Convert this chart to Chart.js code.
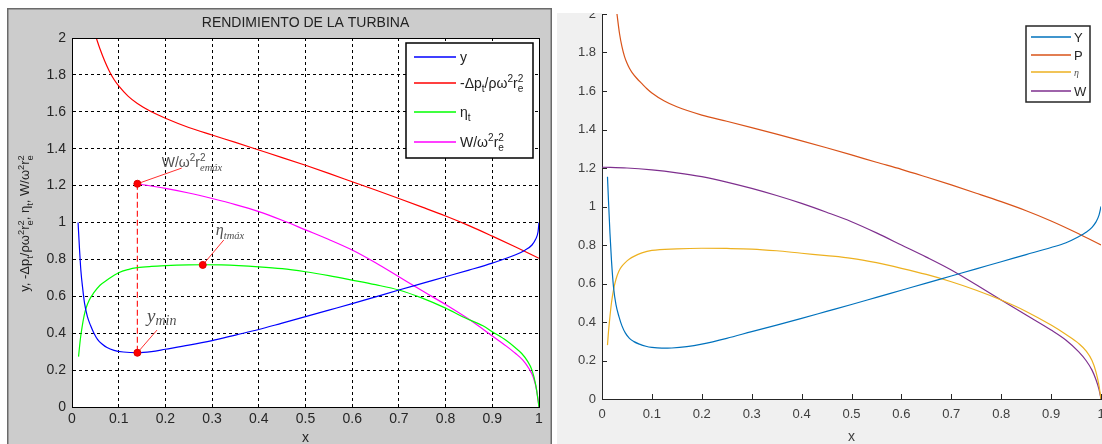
<!DOCTYPE html>
<html><head><meta charset="utf-8">
<script src="https://cdn.jsdelivr.net/npm/chart.js@4/dist/chart.umd.min.js"></script>
<style>
html,body{margin:0;padding:0;background:#fff;overflow:hidden;width:1102px;height:444px;}
#c1{position:absolute;left:7px;top:8px;}
#c2{position:absolute;left:557px;top:13px;}
</style></head><body>
<canvas id="c1" width="545" height="446"></canvas>
<canvas id="c2" width="545" height="441"></canvas>
<script>
// ---------- tick labels ----------
const xTickLabels = ['0','0.1','0.2','0.3','0.4','0.5','0.6','0.7','0.8','0.9','1'];
const yTickLabels = ['0','0.2','0.4','0.6','0.8','1','1.2','1.4','1.6','1.8','2'];

// ---------- left chart data ----------
const leftTitle = 'RENDIMIENTO DE LA TURBINA';
const yCurveX = [0.013,0.016,0.019,0.023,0.027,0.033,0.04,0.047,0.055,0.065,0.075,0.09,0.11,0.14,0.17,0.2,0.25,0.3,0.35,0.4,0.45,0.5,0.55,0.6,0.65,0.7,0.75,0.8,0.85,0.9,0.95,0.97,0.985,0.993,0.998,1.0];
const yCurveV = [1.0,0.86,0.74,0.64,0.56,0.49,0.44,0.40,0.365,0.34,0.322,0.307,0.298,0.294,0.3,0.313,0.335,0.36,0.39,0.42,0.455,0.49,0.525,0.56,0.597,0.634,0.67,0.706,0.742,0.78,0.825,0.85,0.878,0.91,0.95,1.0];
const pCurveX = [0.052,0.06,0.07,0.08,0.09,0.1,0.12,0.14,0.17,0.2,0.25,0.3,0.35,0.4,0.45,0.5,0.55,0.6,0.65,0.7,0.75,0.8,0.85,0.9,0.95,1.0];
const pCurveV = [2.0,1.94,1.875,1.82,1.775,1.74,1.685,1.645,1.60,1.565,1.515,1.474,1.434,1.393,1.352,1.31,1.266,1.221,1.176,1.13,1.083,1.035,0.983,0.926,0.867,0.806];
const etaCurveX = [0.014,0.018,0.022,0.026,0.03,0.037,0.046,0.06,0.075,0.1,0.12,0.14,0.17,0.2,0.25,0.28,0.32,0.4,0.45,0.5,0.55,0.6,0.65,0.7,0.75,0.8,0.84,0.88,0.9,0.93,0.95,0.963,0.975,0.985,0.993,1.0];
const etaCurveV = [0.273,0.37,0.44,0.495,0.535,0.58,0.617,0.66,0.688,0.728,0.745,0.755,0.762,0.766,0.77,0.771,0.77,0.76,0.75,0.733,0.712,0.688,0.663,0.634,0.59,0.536,0.485,0.44,0.408,0.36,0.32,0.29,0.25,0.2,0.12,0.0];
const wCurveX = [0.14,0.2,0.25,0.3,0.35,0.4,0.45,0.5,0.55,0.6,0.65,0.7,0.75,0.8,0.85,0.9,0.93,0.95,0.965,0.978,0.988,0.995,1.0];
const wCurveV = [1.21,1.185,1.16,1.13,1.097,1.059,1.012,0.96,0.908,0.851,0.782,0.706,0.63,0.555,0.475,0.385,0.33,0.29,0.255,0.21,0.16,0.09,0.0];
// annotation points (W max, eta max, y min) and their label anchors
const annX = [0.14, 0.28, 0.14];
const annY = [1.21, 0.77, 0.294];
const annLX = [0.235, 0.325, 0.182];
const annLY = [1.295, 0.905, 0.417];

// ---------- right chart data ----------
const rightNames = ['Y','P','η','W'];
const rYX = [0.011,0.013,0.016,0.019,0.023,0.028,0.034,0.04,0.047,0.055,0.064,0.075,0.088,0.1,0.12,0.14,0.17,0.2,0.25,0.3,0.35,0.4,0.45,0.5,0.55,0.6,0.65,0.7,0.75,0.8,0.85,0.9,0.93,0.955,0.97,0.982,0.99,0.996,1.0];
const rYV = [1.155,1.03,0.86,0.72,0.583,0.49,0.428,0.38,0.342,0.315,0.298,0.285,0.274,0.268,0.264,0.265,0.272,0.285,0.315,0.35,0.384,0.419,0.455,0.491,0.528,0.565,0.602,0.639,0.676,0.713,0.75,0.787,0.812,0.843,0.866,0.892,0.92,0.955,1.0];
const rPX = [0.03,0.035,0.04,0.045,0.05,0.055,0.06,0.07,0.08,0.09,0.1,0.125,0.15,0.2,0.25,0.3,0.35,0.4,0.45,0.5,0.55,0.6,0.65,0.7,0.75,0.8,0.85,0.9,0.95,1.0];
const rPV = [2.0,1.9,1.83,1.78,1.745,1.718,1.697,1.665,1.638,1.612,1.59,1.548,1.518,1.475,1.443,1.41,1.376,1.341,1.305,1.268,1.23,1.193,1.153,1.112,1.069,1.025,0.978,0.925,0.865,0.8];
const rEX = [0.011,0.013,0.016,0.019,0.023,0.028,0.034,0.04,0.047,0.055,0.064,0.08,0.1,0.15,0.2,0.25,0.3,0.35,0.4,0.45,0.5,0.55,0.6,0.65,0.7,0.75,0.8,0.85,0.9,0.93,0.955,0.97,0.982,0.99,0.996,1.0];
const rEV = [0.28,0.35,0.43,0.5,0.566,0.622,0.665,0.69,0.71,0.727,0.741,0.759,0.772,0.78,0.783,0.782,0.779,0.77,0.757,0.745,0.731,0.708,0.679,0.647,0.609,0.565,0.514,0.455,0.384,0.335,0.289,0.25,0.2,0.14,0.07,0.0];
const rWX = [0,0.05,0.1,0.15,0.2,0.25,0.3,0.35,0.4,0.45,0.5,0.55,0.6,0.65,0.7,0.75,0.8,0.85,0.9,0.93,0.955,0.97,0.982,0.99,0.996,1.0];
const rWV = [1.204,1.2,1.19,1.175,1.155,1.127,1.094,1.057,1.016,0.97,0.921,0.863,0.8,0.737,0.67,0.593,0.514,0.436,0.358,0.305,0.246,0.2,0.15,0.1,0.05,0.0];

// ---------- helpers ----------
const SANS = 'Liberation Sans, Arial, sans-serif';
const SERIF = 'Liberation Serif, Times New Roman, serif';
function pts(xs, ys){ return xs.map((x,i)=>({x:x, y:ys[i]})); }
function rt(fs, fam, list){
  const out=[];
  for(const p of list){
    if(typeof p==='string') out.push({t:p,size:fs,family:fam});
    else if(p[0]==='^') out.push({t:p[1],size:fs*0.72,family:fam,dy:-fs*0.4});
    else if(p[0]==='_') out.push({t:p[1],size:fs*0.72,family:fam,dy:fs*0.3});
    else if(p[0]==='^_'){ out.push({t:p[1],size:fs*0.72,family:fam,dy:-fs*0.4,stack:true}); out.push({t:p[2],size:fs*0.72,family:fam,dy:fs*0.3}); }
  }
  return out;
}
function layoutRich(ctx, segs){
  let x=0, pend=0; const items=[];
  for(const s of segs){
    const font = ((s.style||'')+' '+s.size+'px '+s.family).trim();
    ctx.font = font;
    const w = ctx.measureText(s.t).width;
    items.push({t:s.t, x:x, dy:s.dy||0, font:font});
    if(s.stack){ pend=Math.max(pend,w); } else { x += Math.max(pend,w); pend=0; }
  }
  return {items:items, width:x};
}
function drawRich(ctx, segs, x0, y0, align, color){
  const L = layoutRich(ctx, segs);
  const sx = align==='center' ? x0-L.width/2 : (align==='right' ? x0-L.width : x0);
  ctx.fillStyle=color; ctx.textBaseline='alphabetic'; ctx.textAlign='left';
  for(const it of L.items){ ctx.font=it.font; ctx.fillText(it.t, sx+it.x, y0+it.dy); }
}

Chart.defaults.animation = false;

// ---------- LEFT CHART ----------
const leftLegend = [
  {color:'#0000ff', segs: rt(14, SANS, ['y'])},
  {color:'#ff0000', segs: rt(14, SANS, ['-Δp',['_','t'],'/ρω',['^','2'],'r',['^_','2','e']])},
  {color:'#00ff00', segs: rt(14, SANS, ['η',['_','t']])},
  {color:'#ff00ff', segs: rt(14, SANS, ['W/ω',['^','2'],'r',['^_','2','e']])}
];
const yTitleSegs = rt(13, SANS, ['y, -Δp',['_','t'],'/ρω',['^','2'],'r',['^_','2','e'],', η',['_','t'],', W/ω',['^','2'],'r',['^_','2','e']]);
const annLabels = [
  {dx:-20, dy:-1, segs:[{t:'W/ω',size:14,family:SANS},{t:'2',size:10,family:SANS,dy:-6},{t:'r',size:14,family:SANS},{t:'2',size:10,family:SANS,dy:-6,stack:true},{t:'emáx',size:10.5,family:SERIF,style:'italic',dy:4}]},
  {dx:-8, dy:-5, segs:[{t:'η',size:16,family:SERIF,style:'italic'},{t:'tmáx',size:10.5,family:SERIF,style:'italic',dy:4}]},
  {dx:-10, dy:-8, segs:[{t:'y',size:19,family:SERIF,style:'italic'},{t:'min',size:14,family:SERIF,style:'italic',dy:3}]}
];

const leftPlugin = {
  id:'leftDeco',
  beforeDraw(chart){
    const {ctx, chartArea:a, width, height} = chart;
    ctx.save();
    ctx.fillStyle='#cccccc'; ctx.fillRect(0,0,width,height);
    ctx.strokeStyle='#6a6a6a'; ctx.lineWidth=1.5; ctx.strokeRect(0.75,0.75,width-1.5,height+10);
    ctx.fillStyle='#ffffff'; ctx.fillRect(a.left,a.top,a.right-a.left,a.bottom-a.top);
    ctx.restore();
  },
  afterDatasetsDraw(chart){
    const {ctx, scales} = chart;
    ctx.save();
    for(let i=0;i<annLabels.length;i++){
      const px = scales.x.getPixelForValue(annLX[i]), py = scales.y.getPixelForValue(annLY[i]);
      drawRich(ctx, annLabels[i].segs, px+annLabels[i].dx, py+annLabels[i].dy, 'left', '#505050');
    }
    ctx.restore();
  },
  afterDraw(chart){
    const {ctx, chartArea:a} = chart;
    ctx.save();
    ctx.strokeStyle='#000'; ctx.lineWidth=1; ctx.setLineDash([]);
    ctx.strokeRect(Math.round(a.left)+0.5, Math.round(a.top)+0.5, Math.round(a.right-a.left), Math.round(a.bottom-a.top));
    ctx.fillStyle='#222'; ctx.font='14px '+SANS; ctx.textAlign='center'; ctx.textBaseline='middle';
    ctx.fillText(leftTitle, (a.left+a.right)/2, a.top-15);
    ctx.translate(22, 215.5); ctx.rotate(-Math.PI/2);
    drawRich(ctx, yTitleSegs, 0, 0, 'center', '#222');
    ctx.restore();
    ctx.save();
    const lx = a.right-133, ly = a.top+5;
    ctx.fillStyle='#fff'; ctx.fillRect(lx,ly,127,115);
    ctx.strokeStyle='#000'; ctx.lineWidth=1.5; ctx.strokeRect(lx,ly,127,115);
    const rows=[19,45,74,104];
    for(let i=0;i<leftLegend.length;i++){
      const yy = a.top+rows[i];
      ctx.strokeStyle=leftLegend[i].color; ctx.lineWidth=1.3;
      ctx.beginPath(); ctx.moveTo(a.right-125, yy); ctx.lineTo(a.right-83, yy); ctx.stroke();
      drawRich(ctx, leftLegend[i].segs, a.right-79, yy+5, 'left', '#222');
    }
    ctx.restore();
  }
};

const lineDS = (data, color, extra) => Object.assign({data:data, borderColor:color, backgroundColor:color, borderWidth:1.2, pointRadius:0, showLine:true, fill:false, cubicInterpolationMode:'monotone'}, extra||{});

const leftDatasets = [
  {data: pts(annX, annY), pointRadius:3.5, pointBackgroundColor:'#ff0000', pointBorderColor:'#e00000', showLine:false},
  lineDS(pts(yCurveX, yCurveV), '#0000ff'),
  lineDS(pts(pCurveX, pCurveV), '#ff0000'),
  lineDS(pts(etaCurveX, etaCurveV), '#00ff00'),
  lineDS(pts(wCurveX, wCurveV), '#ff00ff'),
  lineDS([{x:annX[0],y:annY[0]},{x:annX[2],y:annY[2]}], '#ff2020', {borderDash:[6,3], cubicInterpolationMode:'default', tension:0}),
  lineDS([{x:annX[0],y:annY[0]},{x:annLX[0],y:annLY[0]}], '#ff3030', {tension:0, cubicInterpolationMode:'default', borderWidth:1}),
  lineDS([{x:annX[1],y:annY[1]},{x:annLX[1],y:annLY[1]}], '#ff3030', {tension:0, cubicInterpolationMode:'default', borderWidth:1}),
  lineDS([{x:annX[2],y:annY[2]},{x:annLX[2],y:annLY[2]}], '#ff3030', {tension:0, cubicInterpolationMode:'default', borderWidth:1})
];

new Chart(document.getElementById('c1'), {
  type:'scatter',
  data:{datasets:leftDatasets},
  options:{
    responsive:false, devicePixelRatio:1, animation:false,
    layout:{padding:{left:0,right:13,top:30,bottom:0}},
    plugins:{legend:{display:false}, tooltip:{enabled:false}, title:{display:false}},
    scales:{
      x:{type:'linear', min:0, max:1,
        ticks:{stepSize:0.1, autoSkip:false, maxRotation:0, padding:4, color:'#262626', font:{family:SANS,size:14},
          callback:(v)=>xTickLabels[Math.round(v*10)]},
        grid:{color:'#000', lineWidth:1, drawTicks:false},
        border:{display:true, color:'#000', width:1, dash:[3,3]},
        title:{display:true, text:'x', color:'#262626', font:{family:SANS,size:14}, padding:{top:0,bottom:7.6}},
        afterFit(s){ s.height=47; s.paddingLeft=0; s.paddingRight=0; }
      },
      y:{type:'linear', min:0, max:2,
        ticks:{stepSize:0.2, autoSkip:false, padding:6, color:'#262626', font:{family:SANS,size:14},
          callback:(v)=>yTickLabels[Math.round(v*5)]},
        grid:{color:'#000', lineWidth:1, drawTicks:false},
        border:{display:true, color:'#000', width:1, dash:[3,3]},
        afterFit(s){ s.width=65; s.paddingTop=0; s.paddingBottom=0; }
      }
    }
  },
  plugins:[leftPlugin]
});

// ---------- RIGHT CHART ----------
const rightColors = ['#0072BD','#D95319','#EDB120','#7E2F8E'];
const rightPlugin = {
  id:'rightDeco',
  beforeDraw(chart){
    const {ctx, chartArea:a, width, height} = chart;
    ctx.save();
    ctx.fillStyle='#f0f0f0'; ctx.fillRect(0,0,width,height);
    ctx.fillStyle='#ffffff'; ctx.fillRect(a.left,a.top-1,a.right-a.left+1,a.bottom-a.top+1);
    ctx.restore();
  },
  afterDraw(chart){
    const {ctx, chartArea:a, scales} = chart;
    ctx.save();
    ctx.strokeStyle='#262626'; ctx.lineWidth=1;
    scales.x.ticks.forEach(t=>{ const px=Math.round(scales.x.getPixelForValue(t.value))+0.5; ctx.beginPath(); ctx.moveTo(px,a.bottom); ctx.lineTo(px,a.bottom-5); ctx.stroke(); });
    scales.y.ticks.forEach(t=>{ const py=Math.round(scales.y.getPixelForValue(t.value))+0.5; ctx.beginPath(); ctx.moveTo(a.left,py); ctx.lineTo(a.left+5,py); ctx.stroke(); });
    const lx=a.right-75, ly=a.top+12;
    ctx.fillStyle='#fff'; ctx.fillRect(lx,ly,64,76);
    ctx.strokeStyle='#262626'; ctx.lineWidth=1.5; ctx.strokeRect(lx,ly,64,76);
    const rows=[23,41,58,77];
    for(let i=0;i<rightNames.length;i++){
      const yy=a.top+rows[i];
      ctx.strokeStyle=rightColors[i]; ctx.lineWidth=1.3;
      ctx.beginPath(); ctx.moveTo(a.right-70,yy); ctx.lineTo(a.right-30,yy); ctx.stroke();
      ctx.fillStyle='#262626'; ctx.textAlign='left'; ctx.textBaseline='middle';
      if(rightNames[i]==='η'){ ctx.font='italic 10px '+SERIF; ctx.fillStyle='#555'; ctx.fillText(rightNames[i], a.right-27, yy+1); }
      else { ctx.font='13px '+SANS; ctx.fillText(rightNames[i], a.right-27, yy+1); }
    }
    ctx.restore();
  }
};
new Chart(document.getElementById('c2'), {
  type:'scatter',
  data:{datasets:[
    lineDS(pts(rYX,rYV), rightColors[0]),
    lineDS(pts(rPX,rPV), rightColors[1]),
    lineDS(pts(rEX,rEV), rightColors[2]),
    lineDS(pts(rWX,rWV), rightColors[3])
  ]},
  options:{
    responsive:false, devicePixelRatio:1, animation:false,
    layout:{padding:{left:0,right:1,top:1,bottom:0}},
    plugins:{legend:{display:false}, tooltip:{enabled:false}},
    scales:{
      x:{type:'linear', min:0, max:1,
        ticks:{stepSize:0.1, autoSkip:false, maxRotation:0, padding:8, color:'#404040', font:{family:SANS,size:13},
          callback:(v)=>xTickLabels[Math.round(v*10)]},
        grid:{display:false, drawTicks:false},
        border:{display:true, color:'#262626', width:1},
        title:{display:true, text:'x', color:'#404040', font:{family:SANS,size:14}, padding:{top:0,bottom:8.6}},
        afterFit(s){ s.height=55; s.paddingLeft=0; s.paddingRight=0; }
      },
      y:{type:'linear', min:0, max:2,
        ticks:{stepSize:0.2, autoSkip:false, padding:6, color:'#404040', font:{family:SANS,size:13},
          callback:(v)=>yTickLabels[Math.round(v*5)]},
        grid:{display:false, drawTicks:false},
        border:{display:true, color:'#262626', width:1},
        afterFit(s){ s.width=45; s.paddingTop=0; s.paddingBottom=0; }
      }
    }
  },
  plugins:[rightPlugin]
});
</script>
</body></html>
